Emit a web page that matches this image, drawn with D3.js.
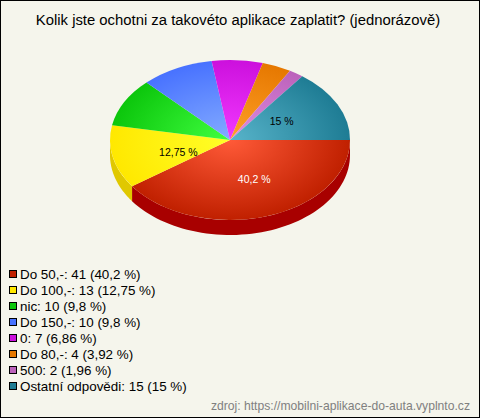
<!DOCTYPE html>
<html><head><meta charset="utf-8">
<script src="https://cdn.jsdelivr.net/npm/d3@7/dist/d3.min.js"></script>
<style>html,body{margin:0;padding:0;background:#f5f5ec}svg{display:block}text{font-family:"Liberation Sans",Arial,sans-serif}</style>
</head><body><svg id="c" width="480" height="418"></svg>
<script>
const categories = ["Do 50,-","Do 100,-","nic","Do 150,-","0","Do 80,-","500","Ostatní odpovědi"];
const counts = [41,13,10,10,7,4,2,15];
const percents = ["40,2","12,75","9,8","9,8","6,86","3,92","1,96","15"];
const shownLabels = ["40,2 %","12,75 %",null,null,null,null,null,"15 %"];
const labelColors = ["#fff","#000",null,null,null,null,null,"#000"];
const edgeColors = ["#c02000","#ffe800","#0cc60c","#4872ff","#cc10dd","#e67800","#bb62bb","#1e7c94"];
const centerColors = ["#ff5a38","#ffff28","#40ff40","#84acff","#f238ff","#ffa028","#e08ce0","#58b4ca"];
const wallColors = ["#a80000","#e0c800","#0a9a0a","#3658c8","#a00cb0","#b86000","#905090","#185f72"];
const title = "Kolik jste ochotni za takovéto aplikace zaplatit? (jednorázově)";
const source = "zdroj: https://mobilni-aplikace-do-auta.vyplnto.cz";

const W=480,H=418,cx=230,cy=140,rx=120,ry=80,depth=15;
const nudges=[[6,1],[7,3.5],null,null,null,null,null,[-2,-1]];
const svg=d3.select("#c");
svg.append("rect").attr("x",.5).attr("y",.5).attr("width",W-1).attr("height",H-1).attr("fill","#f5f5ec").attr("stroke","#000");
svg.append("text").attr("x",238).attr("y",25).attr("text-anchor","middle").attr("font-size",14.85).attr("fill","#000").text(title);

const pie=d3.pie().sort(null).value(d=>d).startAngle(Math.PI/2).endAngle(Math.PI/2+2*Math.PI);
const arcs=pie(counts);
const defs=svg.append("defs");
arcs.forEach((a,i)=>{
  const g=defs.append("radialGradient").attr("id","g"+i).attr("gradientUnits","userSpaceOnUse")
    .attr("cx",0).attr("cy",0).attr("r",rx);
  g.append("stop").attr("offset",0).attr("stop-color",centerColors[i]);
  g.append("stop").attr("offset",1).attr("stop-color",edgeColors[i]);
});
const pt=(t,dy)=>[cx+rx*Math.sin(t),cy+ry*(-Math.cos(t))+dy];
// visible side wall
const wall=svg.append("g");
arcs.forEach((a,i)=>{
  const lo=Math.max(a.startAngle,Math.PI/2), hi=Math.min(a.endAngle,Math.PI*1.5);
  if(hi<=lo) return;
  const ts=d3.range(0,61).map(k=>lo+(hi-lo)*k/60);
  const pts=ts.map(t=>pt(t,0)).concat(ts.slice().reverse().map(t=>pt(t,depth)));
  wall.append("path").attr("d",d3.line()(pts)+"Z").attr("fill",wallColors[i]);
});
// top face
const arc=d3.arc().innerRadius(0).outerRadius(rx);
const face=svg.append("g").attr("transform",`translate(${cx},${cy}) scale(1,${ry/rx})`);
face.selectAll("path").data(arcs).join("path").attr("d",arc).attr("fill",(d,i)=>`url(#g${i})`);
// labels
const labelArc=d3.arc().innerRadius(rx*.5).outerRadius(rx*.5);
arcs.forEach((a,i)=>{
  if(!shownLabels[i])return;
  const [x,y]=labelArc.centroid(a);
  svg.append("text").attr("x",cx+x+nudges[i][0]).attr("y",cy+y*ry/rx+nudges[i][1]+4)
    .attr("text-anchor","middle").attr("font-size",10.5).attr("fill",labelColors[i]).text(shownLabels[i]);
});
// legend
const rows=svg.append("g").selectAll("g").data(categories).join("g").attr("transform",(d,i)=>`translate(9,${270+i*16})`);
rows.append("rect").attr("x",.5).attr("y",.5).attr("width",7).attr("height",7).attr("fill",(d,i)=>edgeColors[i]).attr("stroke","#000");
rows.append("text").attr("x",11).attr("y",9).attr("font-size",13.4).attr("fill","#000")
  .text((d,i)=>`${d}: ${counts[i]} (${percents[i]} %)`);
svg.append("text").attr("x",470).attr("y",410).attr("text-anchor","end").attr("font-size",12.15).attr("fill","#808080").text(source);
</script></body></html>
